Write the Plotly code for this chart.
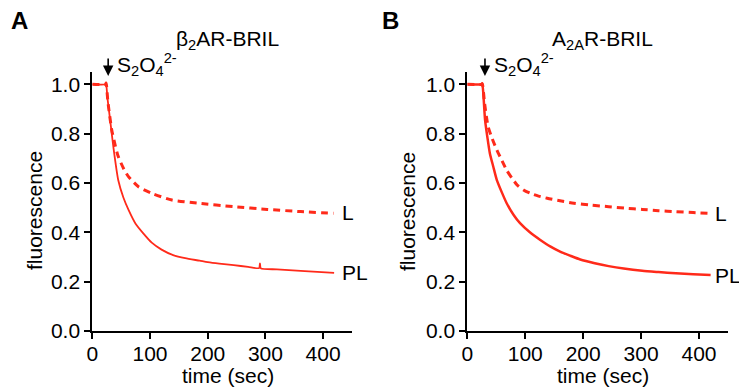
import plotly.graph_objects as go

# ---- data ----
a_pl_t = [0, 23, 24, 26, 31, 36.5, 45, 54, 63, 75, 88.7, 103, 120, 140, 161, 186, 200, 220, 245, 270, 289, 290.5, 292, 320, 361, 390, 419]
a_pl_v = [1.0, 1.0, 1.005, 0.95, 0.854, 0.746, 0.611, 0.54, 0.49, 0.435, 0.395, 0.358, 0.33, 0.308, 0.295, 0.285, 0.279, 0.273, 0.267, 0.26, 0.255, 0.274, 0.254, 0.25, 0.244, 0.24, 0.236]
a_l_t = [0, 23, 24, 27, 33.7, 40, 45, 55, 63, 80, 103, 138, 184, 245, 303, 361, 418]
a_l_v = [1.0, 1.0, 1.005, 0.93, 0.815, 0.75, 0.707, 0.655, 0.625, 0.585, 0.558, 0.531, 0.518, 0.504, 0.493, 0.484, 0.477]

b_pl_t = [0, 25, 26, 28, 30.7, 35, 39, 45, 51, 60, 68, 80, 91, 108, 126, 143, 161, 178, 195, 220, 244, 270, 302, 330, 360, 390, 420]
b_pl_v = [1.0, 1.0, 1.003, 0.95, 0.855, 0.78, 0.72, 0.665, 0.612, 0.56, 0.518, 0.47, 0.437, 0.4, 0.369, 0.343, 0.321, 0.305, 0.29, 0.275, 0.263, 0.253, 0.244, 0.239, 0.234, 0.23, 0.227]
b_l_t = [0, 25, 26, 30, 36, 43, 51, 60, 68, 77, 86, 97, 109, 123, 138, 160, 184, 214, 244, 272, 302, 330, 360, 390, 418]
b_l_v = [1.0, 1.0, 1.003, 0.92, 0.828, 0.78, 0.734, 0.69, 0.652, 0.62, 0.592, 0.572, 0.558, 0.547, 0.538, 0.528, 0.518, 0.51, 0.504, 0.498, 0.493, 0.488, 0.484, 0.48, 0.477]

x_ticks = [0, 100, 200, 300, 400]
y_ticks = [0.0, 0.2, 0.4, 0.6, 0.8, 1.0]
titles = ["β<sub>2</sub>AR-BRIL", "A<sub>2A</sub>R-BRIL"]
panel_letters = ["A", "B"]
reagent = "S<sub>2</sub>O<sub>4</sub><sup>2-</sup>"

RED = "#ff2a1a"
FONT = "Liberation Sans, Arial, sans-serif"
W, H = 739, 390
FS = 21

def px(xp):
    return xp / W

def py(yp):
    return 1 - yp / H

fig = go.Figure()
fig.add_trace(go.Scatter(x=a_l_t, y=a_l_v, mode="lines", line=dict(color=RED, width=3, dash="7px,5px", shape="spline", smoothing=0.6), xaxis="x", yaxis="y"))
fig.add_trace(go.Scatter(x=a_pl_t, y=a_pl_v, mode="lines", line=dict(color=RED, width=1.8, shape="spline", smoothing=0.6), xaxis="x", yaxis="y"))
fig.add_trace(go.Scatter(x=b_l_t, y=b_l_v, mode="lines", line=dict(color=RED, width=3, dash="7px,5px", shape="spline", smoothing=0.6), xaxis="x2", yaxis="y2"))
fig.add_trace(go.Scatter(x=b_pl_t, y=b_pl_v, mode="lines", line=dict(color=RED, width=2.5, shape="spline", smoothing=0.6), xaxis="x2", yaxis="y2"))

axis_common = dict(showgrid=False, zeroline=False, showline=True, linecolor="black", linewidth=2,
                   ticks="outside", ticklen=6, tickwidth=1.5, tickcolor="black", automargin=False,
                   tickfont=dict(size=FS, color="black", family=FONT))

fig.update_layout(
    template="none",
    width=W, height=H, margin=dict(l=0, r=0, t=0, b=0, pad=0),
    paper_bgcolor="white", plot_bgcolor="white", showlegend=False,
    font=dict(family=FONT, color="black"),
    xaxis=dict(domain=[px(92.3), px(352)], range=[0, 450], tickvals=x_ticks, anchor="y", ticklabelstandoff=-3, **axis_common),
    yaxis=dict(domain=[py(331), py(72)], range=[0, 1.05], tickvals=y_ticks, tickformat=".1f", anchor="x", **axis_common),
    xaxis2=dict(domain=[px(467.3), px(728)], range=[0, 450], tickvals=x_ticks, anchor="y2", ticklabelstandoff=-3, **axis_common),
    yaxis2=dict(domain=[py(331), py(72)], range=[0, 1.05], tickvals=y_ticks, tickformat=".1f", anchor="x2", **axis_common),
)

ann = []
panels = [("x", "y", 9, 227, 115, 27.5, 34, 227.5, 430, 0.48, 0.236),
          ("x2", "y2", 380, 602, 492, 30.5, 407, 603, 424, 0.477, 0.227)]
for i, (xr, yr, lx, tx, sx, at, fx, timex, labx, ly, ply) in enumerate(panels):
    ann.append(dict(text="<b>" + panel_letters[i] + "</b>", xref="paper", yref="paper", x=px(lx), y=py(20),
                    xanchor="left", yanchor="middle", showarrow=False, font=dict(size=24, family=FONT)))
    ann.append(dict(text=titles[i], xref="paper", yref="paper", x=px(tx), y=py(40),
                    xanchor="center", yanchor="middle", showarrow=False, font=dict(size=FS, family=FONT)))
    ann.append(dict(text=reagent, xref="paper", yref="paper", x=px(sx), y=py(65),
                    xanchor="left", yanchor="middle", showarrow=False, font=dict(size=FS, family=FONT)))
    ann.append(dict(text="", xref=xr, yref=yr, x=at, y=1.034, ax=0, ay=-19, showarrow=True,
                    arrowhead=2, arrowsize=1.3, arrowwidth=1.6, arrowcolor="black"))
    ann.append(dict(text="fluorescence", xref="paper", yref="paper", x=px(fx), y=py(211), textangle=-90,
                    xanchor="center", yanchor="middle", showarrow=False, font=dict(size=FS, family=FONT)))
    ann.append(dict(text="time (sec)", xref="paper", yref="paper", x=px(timex), y=py(375),
                    xanchor="center", yanchor="middle", showarrow=False, font=dict(size=FS, family=FONT)))
    ann.append(dict(text="L", xref=xr, yref=yr, x=labx, y=ly, xanchor="left", yanchor="middle",
                    showarrow=False, font=dict(size=FS, family=FONT)))
    ann.append(dict(text="PL", xref=xr, yref=yr, x=labx, y=ply, xanchor="left", yanchor="middle",
                    showarrow=False, font=dict(size=FS, family=FONT)))
fig.update_layout(annotations=ann)

# remove the default page margin so the figure fills the 739x390 window exactly
fig.write_html("out.html", config={"displayModeBar": False},
               post_script="document.body.style.margin='0';document.body.style.overflow='hidden';")
